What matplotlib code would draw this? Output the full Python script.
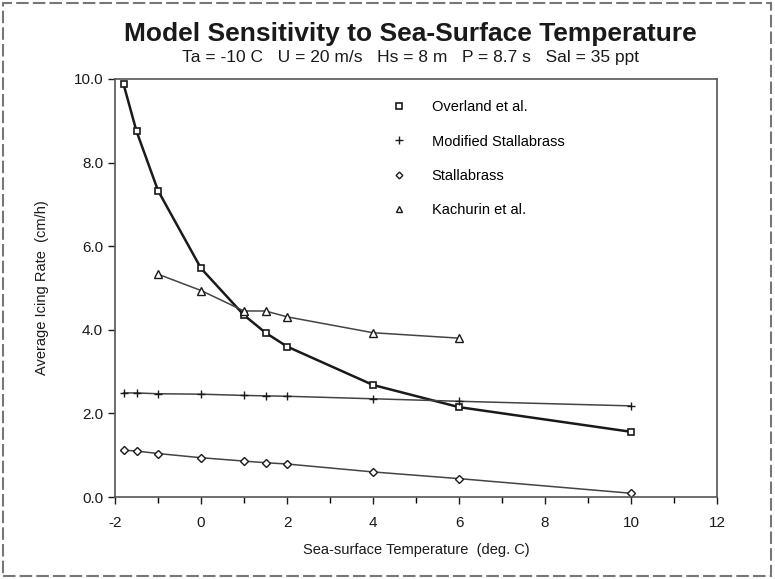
import matplotlib.pyplot as plt
from matplotlib.patches import Rectangle

plt.rcParams['font.family'] = ['Liberation Sans', 'DejaVu Sans']
plt.rcParams['axes.unicode_minus'] = False

# Sea-surface temperature (deg C) for each model run
overland_x = [-1.8, -1.5, -1, 0, 1, 1.5, 2, 4, 6, 10]
overland_y = [9.87, 8.75, 7.33, 5.47, 4.35, 3.93, 3.60, 2.68, 2.15, 1.56]

mod_stall_x = [-1.8, -1.5, -1, 0, 1, 1.5, 2, 4, 6, 10]
mod_stall_y = [2.49, 2.49, 2.47, 2.46, 2.43, 2.42, 2.41, 2.35, 2.29, 2.18]

stall_x = [-1.8, -1.5, -1, 0, 1, 1.5, 2, 4, 6, 10]
stall_y = [1.12, 1.10, 1.04, 0.94, 0.86, 0.82, 0.79, 0.60, 0.44, 0.09]

kach_x = [-1, 0, 1, 1.5, 2, 4, 6]
kach_y = [5.33, 4.94, 4.45, 4.45, 4.31, 3.93, 3.80]

x_ticks = [-2, 0, 2, 4, 6, 8, 10, 12]
y_ticks = [0.0, 2.0, 4.0, 6.0, 8.0, 10.0]

fig = plt.figure(figsize=(7.75, 5.79), dpi=100)
ax = fig.add_axes([0.1484, 0.1416, 0.7768, 0.7220])

ink = '#1a1a1a'
ax.plot(overland_x, overland_y, color=ink, lw=1.8, marker='s', ms=5,
        mfc='white', mec=ink, mew=1.2, label='Overland et al.')
ax.plot(mod_stall_x, mod_stall_y, color='#444444', lw=1.1, marker='+', ms=6,
        mec=ink, mew=1.0, label='Modified Stallabrass')
ax.plot(stall_x, stall_y, color='#444444', lw=1.1, marker='D', ms=3.8,
        mfc='white', mec=ink, mew=1.0, label='Stallabrass')
ax.plot(kach_x, kach_y, color='#444444', lw=1.1, marker='^', ms=5.5,
        mfc='white', mec=ink, mew=1.0, label='Kachurin et al.')

ax.set_xlim(-2, 12)
ax.set_ylim(0, 10)
ax.set_xticks(x_ticks)
ax.set_xticks(range(-2, 13), minor=True)
ax.set_yticks(y_ticks)
ax.set_yticklabels([f'{v:.1f}' for v in y_ticks])
ax.tick_params(direction='out', length=5, width=1, labelsize=11, colors=ink)
ax.tick_params(axis='x', pad=9)
ax.tick_params(which='minor', direction='out', length=4, width=1)
for s in ax.spines.values():
    s.set_color('#555555')
    s.set_linewidth(1.2)

ax.set_xlabel('Sea-surface Temperature  (deg. C)', fontsize=10.5, labelpad=9, color=ink)
ax.set_ylabel('Average Icing Rate  (cm/h)', fontsize=10.5, labelpad=18, color=ink)

leg = ax.legend(loc='upper left', bbox_to_anchor=(0.44, 0.98), frameon=False,
                handlelength=0.8, handletextpad=1.85, labelspacing=1.38,
                fontsize=10.5, markerscale=0.9)
for h in leg.legend_handles:
    h.set_linestyle('none')

fig.text(0.53, 0.942, 'Model Sensitivity to Sea-Surface Temperature',
         ha='center', va='center', fontsize=19, fontweight='bold', color=ink)
fig.text(0.53, 0.900, 'Ta = -10 C   U = 20 m/s   Hs = 8 m   P = 8.7 s   Sal = 35 ppt',
         ha='center', va='center', fontsize=12.5, color=ink)

fig.patches.append(Rectangle((0.004, 0.006), 0.991, 0.988, transform=fig.transFigure,
                             fill=False, ec='#777777', lw=1.5, ls=(0, (6, 2))))

fig.savefig('out.png', dpi=100)
